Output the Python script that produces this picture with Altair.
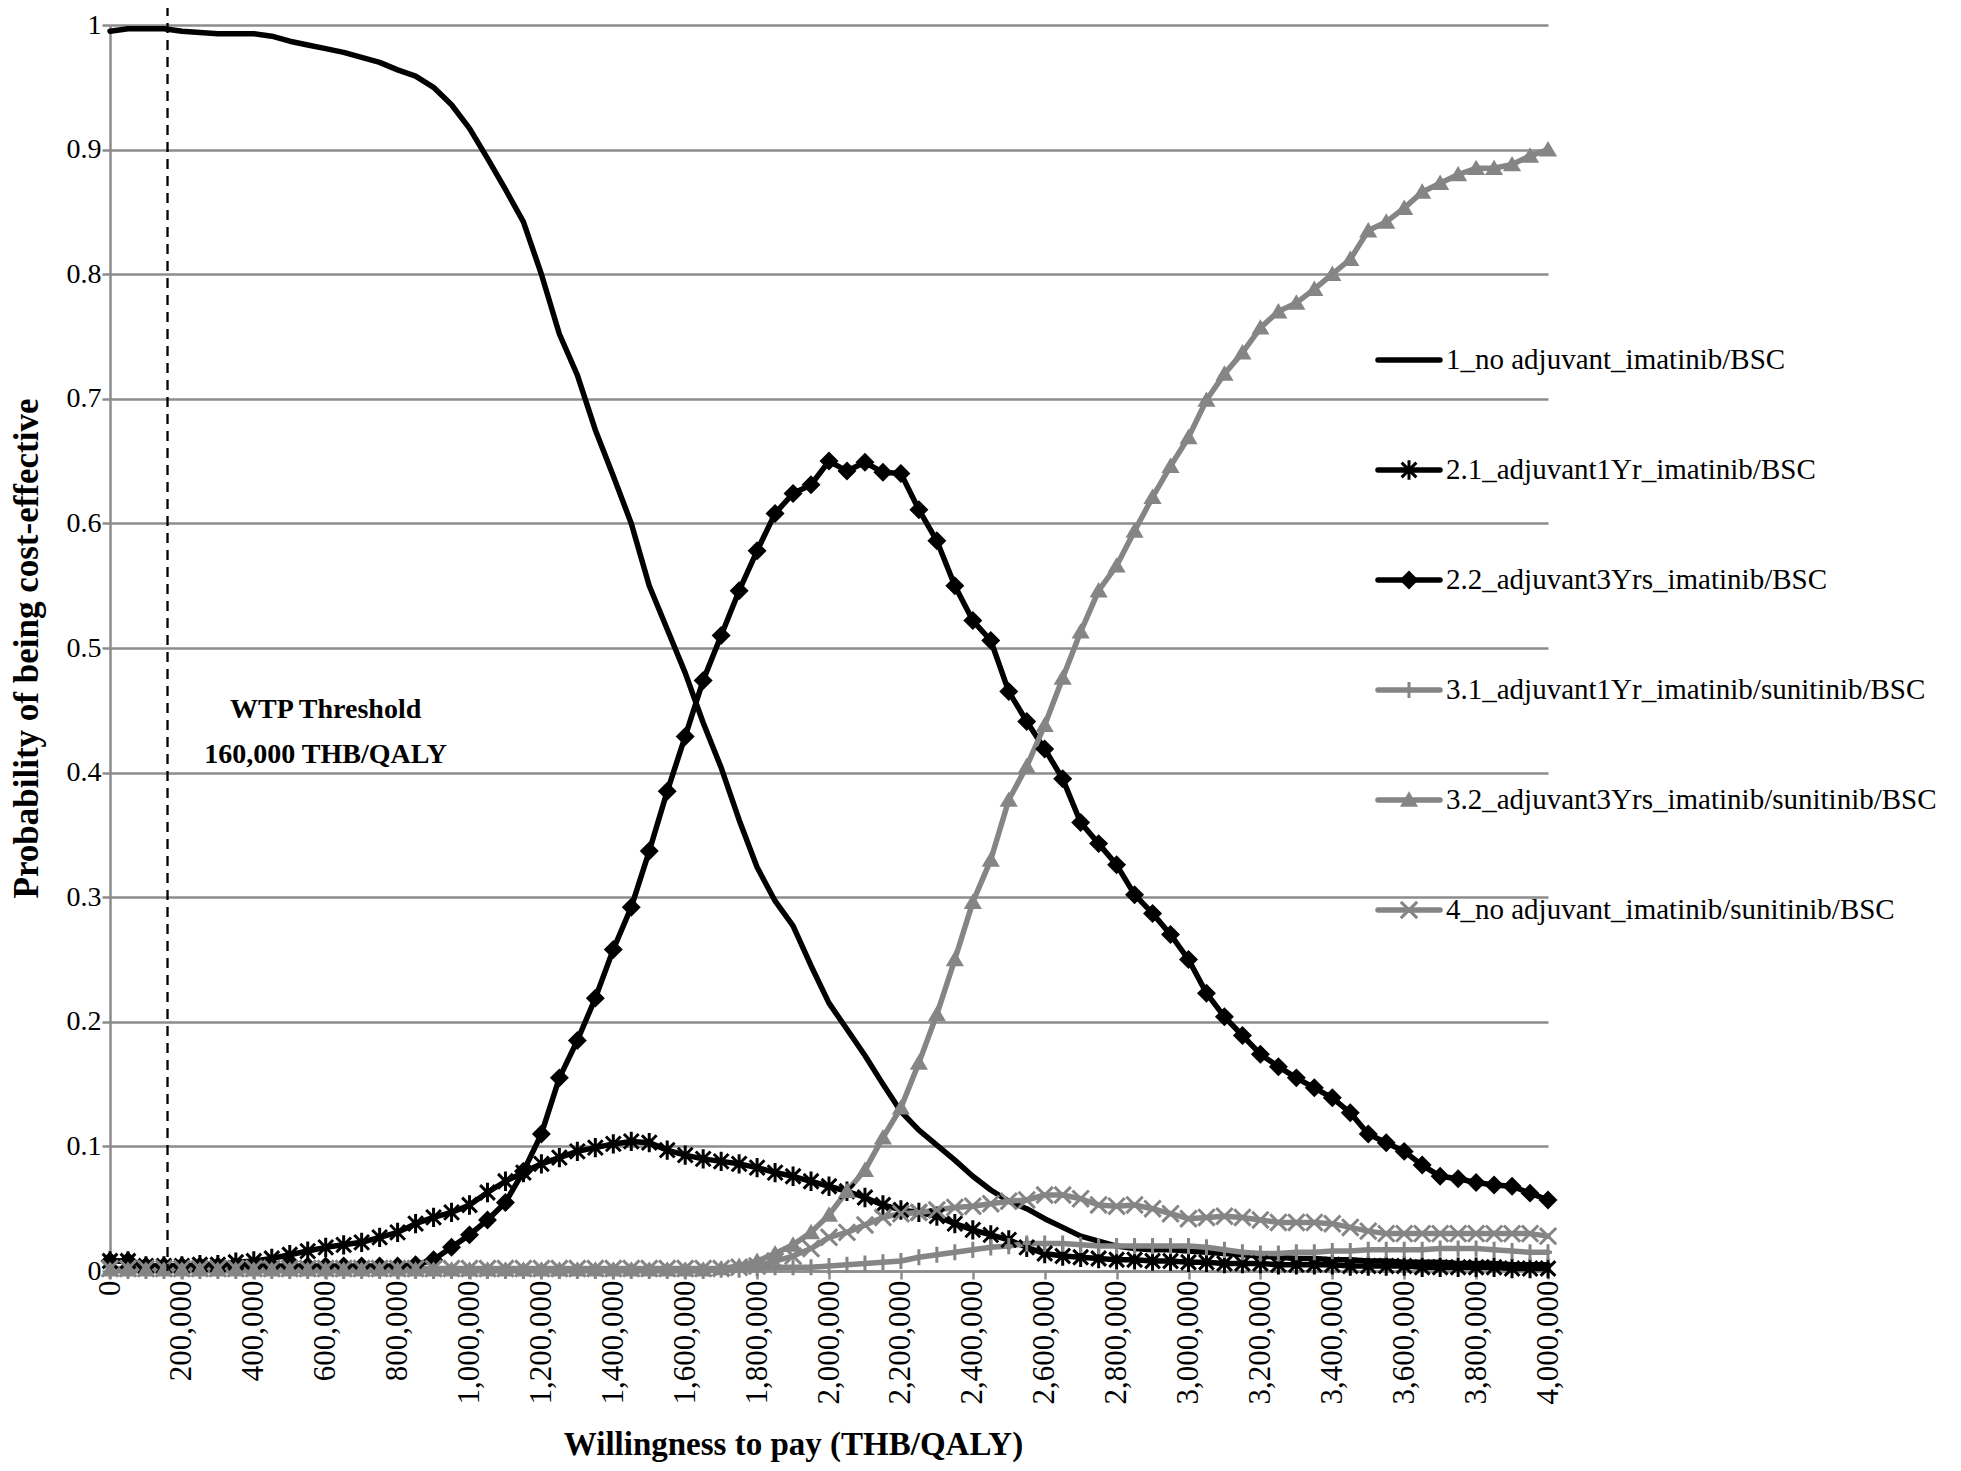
import altair as alt
import pandas as pd

# ---------------- data ----------------
WTP = list(range(0, 4_000_001, 50_000))  # 81 categories, 50,000 THB/QALY apart

NAMES = [
    "1_no adjuvant_imatinib/BSC",
    "2.1_adjuvant1Yr_imatinib/BSC",
    "2.2_adjuvant3Yrs_imatinib/BSC",
    "3.1_adjuvant1Yr_imatinib/sunitinib/BSC",
    "3.2_adjuvant3Yrs_imatinib/sunitinib/BSC",
    "4_no adjuvant_imatinib/sunitinib/BSC",
]

S1 = [0.995, 0.997, 0.997, 0.997, 0.995, 0.994, 0.993, 0.993, 0.993, 0.991,
      0.987, 0.984, 0.981, 0.978, 0.974, 0.970, 0.964, 0.959, 0.950, 0.936,
      0.917, 0.893, 0.868, 0.842, 0.800, 0.752, 0.719, 0.675, 0.638, 0.600,
      0.550, 0.515, 0.480, 0.440, 0.404, 0.362, 0.324, 0.297, 0.277, 0.245,
      0.215, 0.194, 0.173, 0.150, 0.128, 0.113, 0.101, 0.089, 0.076, 0.065,
      0.056, 0.050, 0.042, 0.035, 0.028, 0.024, 0.020, 0.018, 0.017, 0.017,
      0.016, 0.015, 0.014, 0.013, 0.012, 0.011, 0.010, 0.010, 0.009, 0.009,
      0.008, 0.008, 0.007, 0.007, 0.007, 0.006, 0.006, 0.006, 0.005, 0.005,
      0.005]

S21 = [0.008, 0.008, 0.004, 0.004, 0.004, 0.005, 0.005, 0.007, 0.008, 0.010,
       0.013, 0.016, 0.019, 0.021, 0.023, 0.027, 0.031, 0.038, 0.043, 0.047,
       0.053, 0.063, 0.072, 0.079, 0.086, 0.091, 0.096, 0.099, 0.102, 0.104,
       0.103, 0.097, 0.093, 0.090, 0.088, 0.086, 0.083, 0.079, 0.076, 0.072,
       0.068, 0.064, 0.059, 0.053, 0.049, 0.047, 0.044, 0.038, 0.033, 0.029,
       0.025, 0.019, 0.014, 0.012, 0.011, 0.010, 0.009, 0.009, 0.008, 0.008,
       0.007, 0.007, 0.006, 0.006, 0.006, 0.005, 0.005, 0.005, 0.005, 0.004,
       0.004, 0.004, 0.004, 0.003, 0.003, 0.003, 0.003, 0.003, 0.002, 0.002,
       0.002]

S22 = [0.008, 0.008, 0.004, 0.004, 0.004, 0.004, 0.004, 0.004, 0.004, 0.004,
       0.004, 0.004, 0.004, 0.004, 0.004, 0.004, 0.004, 0.005, 0.009, 0.019,
       0.029, 0.041, 0.055, 0.080, 0.110, 0.155, 0.185, 0.219, 0.258, 0.292,
       0.337, 0.385, 0.429, 0.474, 0.510, 0.546, 0.578, 0.608, 0.624, 0.631,
       0.650, 0.642, 0.649, 0.641, 0.640, 0.611, 0.586, 0.550, 0.522, 0.506,
       0.465, 0.441, 0.419, 0.395, 0.360, 0.343, 0.326, 0.302, 0.287, 0.270,
       0.250, 0.223, 0.204, 0.189, 0.174, 0.164, 0.155, 0.147, 0.139, 0.127,
       0.110, 0.103, 0.096, 0.085, 0.076, 0.074, 0.071, 0.069, 0.068, 0.0625,
       0.057]

S31 = [0.000, 0.000, 0.000, 0.000, 0.000, 0.000, 0.000, 0.000, 0.000, 0.000,
       0.000, 0.000, 0.000, 0.000, 0.000, 0.000, 0.000, 0.000, 0.000, 0.000,
       0.000, 0.000, 0.000, 0.000, 0.000, 0.000, 0.000, 0.000, 0.000, 0.000,
       0.000, 0.000, 0.000, 0.000, 0.001, 0.001, 0.002, 0.003, 0.003, 0.003,
       0.004, 0.005, 0.006, 0.007, 0.008, 0.011, 0.013, 0.015, 0.017, 0.019,
       0.020, 0.022, 0.022, 0.022, 0.021, 0.020, 0.020, 0.020, 0.020, 0.020,
       0.020, 0.019, 0.017, 0.015, 0.014, 0.014, 0.015, 0.015, 0.016, 0.016,
       0.017, 0.017, 0.017, 0.017, 0.018, 0.018, 0.018, 0.017, 0.016, 0.015,
       0.015]

S32 = [0.001, 0.001, 0.001, 0.001, 0.001, 0.001, 0.001, 0.001, 0.001, 0.001,
       0.001, 0.001, 0.001, 0.001, 0.001, 0.001, 0.001, 0.001, 0.001, 0.001,
       0.001, 0.001, 0.001, 0.001, 0.001, 0.001, 0.001, 0.001, 0.001, 0.001,
       0.001, 0.001, 0.001, 0.001, 0.002, 0.004, 0.008, 0.014, 0.021, 0.031,
       0.045, 0.064, 0.081, 0.107, 0.131, 0.167, 0.206, 0.250, 0.296, 0.330,
       0.378, 0.405, 0.438, 0.476, 0.513, 0.546, 0.566, 0.594, 0.621, 0.646,
       0.669, 0.699, 0.720, 0.737, 0.757, 0.770, 0.777, 0.788, 0.800, 0.812,
       0.835, 0.842, 0.853, 0.866, 0.873, 0.880, 0.885, 0.885, 0.888, 0.895,
       0.900]

S4 = [0.002, 0.002, 0.002, 0.002, 0.002, 0.002, 0.002, 0.002, 0.002, 0.002,
      0.002, 0.002, 0.002, 0.002, 0.002, 0.002, 0.002, 0.002, 0.002, 0.002,
      0.002, 0.002, 0.002, 0.002, 0.002, 0.002, 0.002, 0.002, 0.002, 0.002,
      0.002, 0.002, 0.002, 0.002, 0.002, 0.003, 0.004, 0.008, 0.012, 0.018,
      0.027, 0.031, 0.037, 0.043, 0.046, 0.047, 0.049, 0.051, 0.052, 0.054,
      0.056, 0.057, 0.061, 0.061, 0.058, 0.053, 0.052, 0.053, 0.050, 0.046,
      0.042, 0.043, 0.044, 0.043, 0.041, 0.039, 0.039, 0.039, 0.038, 0.035,
      0.032, 0.030, 0.030, 0.030, 0.030, 0.030, 0.030, 0.030, 0.030, 0.030,
      0.028]

SERIES = [S1, S21, S22, S31, S32, S4]

Y_TICKS = [0, 0.1, 0.2, 0.3, 0.4, 0.5, 0.6, 0.7, 0.8, 0.9, 1]
X_TICKS = list(range(0, 4_000_001, 200_000))

WTP_THRESHOLD = [160000]
NOTE_TEXT = ["WTP Threshold", "160,000 THB/QALY"]
NOTE_X = [600000, 600000]
NOTE_Y = [0.450, 0.414]

# ---------------- styling ----------------
BLACK = "#000000"
GRAY = "#858585"
COLORS = [BLACK, BLACK, BLACK, GRAY, GRAY, GRAY]
GRID = "#8c8c8c"
FONT = "Liberation Serif"
W, H = 1438, 1246

# markers (unit paths): path, filled, size
MARKERS = [
    None,
    ("M-0.8,-0.8L0.8,0.8M-0.8,0.8L0.8,-0.8M0,-1.05V1.05", False, 340),
    ("M0,-1L1,0L0,1L-1,0Z", True, 360),
    ("M0,-1V1M-0.5,0H0.5", False, 260),
    ("M0,-0.95L1,0.75L-1,0.75Z", True, 330),
    ("M-0.9,-0.9L0.9,0.9M-0.9,0.9L0.9,-0.9", False, 330),
]

rows = []
for k, (name, vals) in enumerate(zip(NAMES, SERIES)):
    for w, v in zip(WTP, vals):
        rows.append({"series": name, "k": k, "wtp": w, "prob": v})
df = pd.DataFrame(rows)

x_enc = alt.X(
    "wtp:Q",
    scale=alt.Scale(domain=[0, 4000000], nice=False, zero=False),
    axis=alt.Axis(
        values=X_TICKS, labelExpr="format(datum.value, ',')", labelAngle=270,
        labelFont=FONT, labelFontSize=31, labelColor="black", labelPadding=1,
        tickSize=8, tickColor=GRID, tickWidth=2.5,
        domainColor=GRID, domainWidth=2.5, grid=False, labelOverlap=False,
        labelFlush=False, labelBound=False,
        title="Willingness  to pay (THB/QALY)", titleFont=FONT, titleFontSize=33,
        titleFontWeight="bold", titleColor="black", titleX=683, titleY=173,
        titleAlign="center", titleBaseline="middle",
    ),
)
y_enc = alt.Y(
    "prob:Q",
    scale=alt.Scale(domain=[0, 1], nice=False, zero=True),
    axis=alt.Axis(
        values=Y_TICKS, labelExpr="format(datum.value, '~g')", labelFont=FONT,
        labelFontSize=28, labelColor="black",
        labelPadding=1, tickSize=8, tickColor=GRID, tickWidth=2.5,
        domainColor=GRID, domainWidth=2.5, grid=True, gridColor=GRID, gridWidth=2.5,
        labelFlush=False, labelBound=False,
        title="Probability of being cost-effective", titleFont=FONT, titleFontSize=35,
        titleFontWeight="bold", titleColor="black", titlePadding=22,
    ),
)

color_scale = alt.Scale(domain=NAMES, range=COLORS)

lines = alt.Chart(df).mark_line(strokeWidth=5.5, strokeJoin="round", strokeCap="round").encode(
    x=x_enc, y=y_enc,
    color=alt.Color("series:N", scale=color_scale, legend=None),
    order=alt.Order("wtp:Q"),
)

data_layers = [lines]
for name, col, mk in zip(NAMES, COLORS, MARKERS):
    if mk is None:
        continue
    path, filled, size = mk
    data_layers.append(
        alt.Chart(df).transform_filter(alt.datum.series == name).mark_point(
            shape=path, filled=filled, size=size, color=col, opacity=1, strokeWidth=3,
        ).encode(x=x_enc, y=y_enc)
    )

thr_df = pd.DataFrame({"wtp": WTP_THRESHOLD})
rule = alt.Chart(thr_df).mark_rule(
    color="black", strokeWidth=2.3, strokeDash=[10, 7], clip=False
).encode(x=x_enc, y=alt.value(-19), y2=alt.value(H))
data_layers.append(rule)

notes = alt.Chart(pd.DataFrame({"wtp": NOTE_X, "prob": NOTE_Y, "t": NOTE_TEXT})).mark_text(
    font=FONT, fontSize=28, fontWeight="bold", color="black", align="center", baseline="middle"
).encode(x=x_enc, y=y_enc, text="t:N")
data_layers.append(notes)

plot = alt.layer(*data_layers)

# ---------------- legend (line + marker samples, labels) ----------------
leg_df = pd.DataFrame({"series": NAMES})
LEG_X0, LEG_X1, LEG_XM, LEG_XT = 1268, 1330, 1299, 1336
ly = alt.Y("series:N", scale=alt.Scale(type="point", domain=NAMES, range=[335, 885], padding=0),
           axis=None)

leg_layers = [
    alt.Chart(leg_df).mark_rule(strokeWidth=5.5, strokeCap="round").encode(
        x=alt.value(LEG_X0), x2=alt.value(LEG_X1), y=ly,
        color=alt.Color("series:N", scale=color_scale, legend=None),
    )
]
for name, col, mk in zip(NAMES, COLORS, MARKERS):
    if mk is None:
        continue
    path, filled, size = mk
    leg_layers.append(
        alt.Chart(leg_df).transform_filter(alt.datum.series == name).mark_point(
            shape=path, filled=filled, size=size, color=col, opacity=1, strokeWidth=3,
        ).encode(x=alt.value(LEG_XM), y=ly)
    )
leg_layers.append(
    alt.Chart(leg_df).mark_text(
        font=FONT, fontSize=29, color="black", align="left", baseline="middle"
    ).encode(x=alt.value(LEG_XT), y=ly, text="series:N")
)
legend = alt.layer(*leg_layers)

chart = alt.layer(plot, legend).resolve_scale(y="independent").properties(
    width=W, height=H,
    autosize=alt.AutoSizeParams(type="none"),
    padding={"left": 102, "top": 17, "right": 405, "bottom": 192},
    background="white",
).configure_view(stroke=None)

chart.save("out.html", embed_options={"renderer": "svg", "actions": False})
